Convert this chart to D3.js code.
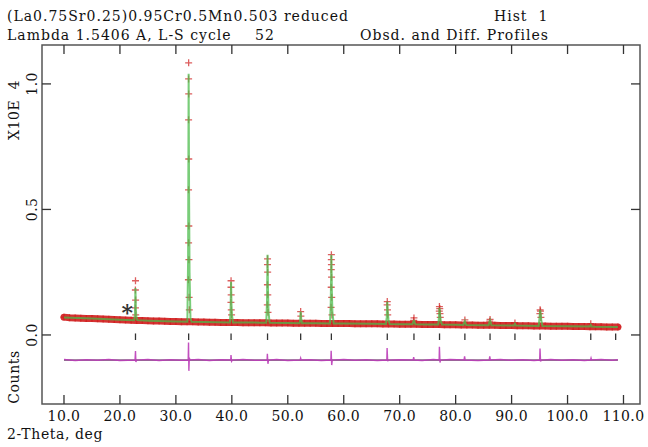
<!DOCTYPE html>
<html>
<head>
<meta charset="utf-8">
<script src="https://cdn.jsdelivr.net/npm/d3@7"></script>
<style>
  body { margin: 0; background: #fff; }
  svg text { font-family: "DejaVu Serif", serif; fill: #111; font-size: 14px; }
</style>
</head>
<body>
<svg id="chart"></svg>
<script>
// ---- data (counts in units of 1e4) ----
const titleLeft = ["(La0.75Sr0.25)0.95Cr0.5Mn0.503 reduced", "Lambda 1.5406 A, L-S cycle"];
const cycleNumber = "52";
const titleRight = ["Hist  1", "Obsd. and Diff. Profiles"];

const xTicks = [10, 20, 30, 40, 50, 60, 70, 80, 90, 100, 110];
const yTicks = [0.0, 0.5, 1.0];

// observed background band, 1 deg steps from 10 to 109
const bandStart = 10;
const bandCounts = [
  0.071, 0.069, 0.068, 0.067, 0.066, 0.066, 0.065, 0.064, 0.063, 0.062,
  0.061, 0.060, 0.059, 0.058, 0.058, 0.057, 0.056, 0.056, 0.055, 0.054,
  0.054, 0.053, 0.053, 0.053, 0.052, 0.052, 0.051, 0.051, 0.050, 0.050,
  0.050, 0.050, 0.049, 0.049, 0.049, 0.049, 0.049, 0.048, 0.048, 0.048,
  0.048, 0.047, 0.047, 0.047, 0.047, 0.047, 0.046, 0.046, 0.046, 0.046,
  0.046, 0.046, 0.045, 0.045, 0.045, 0.045, 0.045, 0.044, 0.044, 0.044,
  0.043, 0.043, 0.043, 0.043, 0.042, 0.042, 0.042, 0.042, 0.041, 0.041,
  0.041, 0.040, 0.040, 0.040, 0.039, 0.039, 0.039, 0.039, 0.038, 0.038,
  0.038, 0.037, 0.037, 0.037, 0.036, 0.036, 0.036, 0.035, 0.035, 0.035,
  0.035, 0.034, 0.034, 0.034, 0.033, 0.033, 0.033, 0.032, 0.032, 0.032
];

// observed points on the peaks [2theta, counts]
const obsPeaks = [
  [22.78, 0.216], [22.76, 0.179], [22.80, 0.139], [22.77, 0.108], [22.82, 0.080],
  [32.28, 1.084], [32.27, 1.020], [32.29, 0.960], [32.27, 0.857], [32.30, 0.701],
  [32.26, 0.578], [32.31, 0.434], [32.27, 0.367], [32.33, 0.300], [32.24, 0.220],
  [32.36, 0.150], [32.40, 0.100],
  [39.86, 0.216], [39.85, 0.190], [39.88, 0.160], [39.84, 0.130], [39.90, 0.100], [39.95, 0.080],
  [46.38, 0.303], [46.37, 0.280], [46.40, 0.250], [46.36, 0.200], [46.42, 0.160],
  [46.34, 0.120], [46.46, 0.090],
  [52.30, 0.093], [52.34, 0.075],
  [57.79, 0.320], [57.78, 0.300], [57.80, 0.280], [57.77, 0.260], [57.82, 0.230],
  [57.76, 0.190], [57.85, 0.150], [57.74, 0.110], [57.90, 0.080],
  [67.78, 0.133], [67.76, 0.120], [67.82, 0.100], [67.86, 0.080],
  [72.55, 0.068], [72.50, 0.058],
  [77.10, 0.113], [77.16, 0.105], [77.08, 0.095], [77.20, 0.085], [77.25, 0.070],
  [81.65, 0.060],
  [86.15, 0.062], [86.10, 0.055],
  [90.60, 0.048],
  [95.10, 0.100], [95.16, 0.095], [95.06, 0.085], [95.24, 0.070],
  [104.15, 0.045]
];

// calculated profile [2theta, counts]
const calcProfile = [
  [10, 0.070], [15, 0.066], [20, 0.061], [22.55, 0.059], [22.68, 0.080], [22.77, 0.187],
  [22.85, 0.100], [22.93, 0.075], [23.1, 0.059], [25, 0.057], [30, 0.054],
  [32.05, 0.053], [32.18, 0.300], [32.28, 1.040], [32.36, 0.550], [32.44, 0.250],
  [32.6, 0.070], [32.8, 0.053], [35, 0.052],
  [39.65, 0.050], [39.77, 0.090], [39.86, 0.212], [39.94, 0.120], [40.02, 0.080], [40.2, 0.050],
  [45, 0.049], [46.15, 0.049], [46.28, 0.130], [46.38, 0.319], [46.47, 0.170],
  [46.56, 0.090], [46.75, 0.049], [50, 0.048],
  [52.1, 0.047], [52.2, 0.060], [52.3, 0.093], [52.4, 0.065], [52.55, 0.047], [55, 0.047],
  [57.55, 0.046], [57.68, 0.130], [57.79, 0.319], [57.88, 0.170], [57.98, 0.090],
  [58.2, 0.046], [60, 0.046], [65, 0.045],
  [67.55, 0.044], [67.68, 0.070], [67.78, 0.133], [67.88, 0.090], [68.0, 0.060], [68.2, 0.044],
  [70, 0.043], [72.3, 0.043], [72.45, 0.052], [72.55, 0.060], [72.65, 0.050], [72.8, 0.043],
  [75, 0.042], [76.9, 0.042], [77.02, 0.070], [77.12, 0.108], [77.22, 0.080],
  [77.35, 0.055], [77.55, 0.042], [80, 0.041],
  [81.4, 0.040], [81.55, 0.050], [81.65, 0.055], [81.75, 0.047], [81.9, 0.040], [85, 0.039],
  [85.9, 0.039], [86.05, 0.052], [86.15, 0.058], [86.25, 0.050], [86.4, 0.039], [90, 0.038],
  [90.45, 0.038], [90.6, 0.044], [90.75, 0.038],
  [94.85, 0.036], [95.0, 0.070], [95.1, 0.100], [95.2, 0.085], [95.3, 0.060], [95.5, 0.036],
  [100, 0.035], [104.0, 0.034], [104.15, 0.040], [104.3, 0.034], [105, 0.033], [109, 0.032]
];

// reflection positions (2theta)
const reflections = [22.78, 32.28, 39.86, 46.38, 52.3, 57.79, 67.78, 72.55, 77.12,
  81.65, 86.15, 90.6, 95.1, 104.15, 108.6];

// difference curve (obs - calc), drawn about diffOffset
const diffOffset = -0.1;
const diffCurve = [
  [10, 0.002], [12, -0.002], [14, 0.001], [16, -0.001], [18, 0.002], [20, -0.002],
  [22.7, 0.000], [22.78, 0.036], [22.85, -0.008], [22.95, 0.000], [25, 0.002], [27, -0.002],
  [29, 0.001], [31, -0.001], [32.2, 0.000], [32.26, 0.070], [32.32, -0.043], [32.4, 0.010],
  [32.5, 0.000], [34, 0.002], [36, -0.002], [38, 0.001], [39.8, 0.000], [39.85, 0.020],
  [39.95, -0.005], [40.1, 0.000], [42, 0.002], [44, -0.001], [46.3, 0.000], [46.35, 0.025],
  [46.45, -0.015], [46.55, 0.000], [48, 0.002], [50, -0.002], [52.2, 0.000], [52.3, 0.008],
  [52.4, 0.000], [54, 0.001], [56, -0.002], [57.7, 0.000], [57.75, 0.037], [57.85, -0.020],
  [57.95, 0.000], [60, 0.002], [62, -0.001], [64, 0.001], [66, -0.002], [67.7, 0.000],
  [67.75, 0.048], [67.85, -0.005], [67.95, 0.000], [70, 0.001], [72.4, 0.000], [72.5, 0.012],
  [72.6, 0.000], [74, -0.002], [76, 0.002], [77.05, 0.000], [77.1, 0.053], [77.2, -0.010],
  [77.3, 0.000], [79, 0.002], [81.5, 0.000], [81.6, 0.015], [81.7, 0.000], [84, -0.002],
  [86.0, 0.000], [86.1, 0.015], [86.2, 0.000], [88, 0.002], [90, -0.001], [92, 0.001],
  [94, -0.002], [95.02, 0.000], [95.08, 0.046], [95.18, -0.006], [95.3, 0.000], [97, 0.002],
  [99, -0.001], [101, 0.001], [103, -0.002], [104.1, 0.000], [104.2, 0.008], [104.3, 0.000],
  [106, 0.002], [108, -0.001], [109, 0.001]
];

const star = { theta: 21.3, counts: 0.10 };

// ---- layout ----
const width = 648;
const height = 447;
const box = { left: 42, right: 640, top: 45, bottom: 404 };

const svg = d3.select("#chart")
  .attr("width", width)
  .attr("height", height);

const x = d3.scaleLinear().domain([6.07, 112.95]).range([box.left, box.right]);
const y = d3.scaleLinear().domain([-0.275, 1.155]).range([box.bottom, box.top]);

const red = "#d01c1c";
const green = "#4cbc4c";
const magenta = "#bb3cb8";

const plot = svg.append("g");

// observed band
const bandPoints = bandCounts.map((c, i) => [bandStart + i, c]);
const line = d3.line().x(d => x(d[0])).y(d => y(d[1]));

plot.append("path")
  .datum(bandPoints)
  .attr("d", line)
  .attr("fill", "none")
  .attr("stroke", red)
  .attr("stroke-width", 7)
  .attr("opacity", 0.9)
  .attr("stroke-linejoin", "round")
  .attr("stroke-linecap", "round");

// observed crosses
plot.selectAll(".obs")
  .data(bandPoints.concat(obsPeaks))
  .enter()
  .append("path")
  .attr("class", "obs")
  .attr("d", d => {
    const cx = x(d[0]), cy = y(d[1]);
    return `M${cx - 3.5},${cy}H${cx + 3.5}M${cx},${cy - 3.5}V${cy + 3.5}`;
  })
  .attr("stroke", red)
  .attr("stroke-width", 1.3)
  .attr("opacity", 0.7);

// calculated profile
plot.append("path")
  .datum(calcProfile)
  .attr("d", line)
  .attr("fill", "none")
  .attr("stroke", green)
  .attr("stroke-width", 2)
  .attr("opacity", 0.75);

// reflection markers
plot.selectAll(".refl")
  .data(reflections)
  .enter()
  .append("line")
  .attr("x1", d => x(d))
  .attr("x2", d => x(d))
  .attr("y1", y(0.006))
  .attr("y2", y(-0.02))
  .attr("stroke", "#333")
  .attr("stroke-width", 1.3);

// difference curve
plot.append("line")
  .attr("x1", x(10)).attr("x2", x(109))
  .attr("y1", y(diffOffset)).attr("y2", y(diffOffset))
  .attr("stroke", "#222")
  .attr("stroke-width", 1);

plot.append("path")
  .datum(diffCurve)
  .attr("d", d3.line().x(d => x(d[0])).y(d => y(d[1] + diffOffset)))
  .attr("fill", "none")
  .attr("stroke", magenta)
  .attr("stroke-width", 1.4)
  .attr("opacity", 0.9);

// asterisk
svg.append("text")
  .attr("x", x(star.theta))
  .attr("y", y(star.counts) + 10)
  .attr("text-anchor", "middle")
  .style("font-size", "22px")
  .style("font-weight", "bold")
  .style("fill", "#333")
  .text("*");

// frame
svg.append("rect")
  .attr("x", box.left)
  .attr("y", box.top)
  .attr("width", box.right - box.left)
  .attr("height", box.bottom - box.top)
  .attr("fill", "none")
  .attr("stroke", "#555")
  .attr("stroke-width", 1.5);

const tickLen = 9;
const axisG = svg.append("g").attr("stroke", "#333").attr("stroke-width", 1.3);

xTicks.forEach(t => {
  axisG.append("line")
    .attr("x1", x(t)).attr("x2", x(t))
    .attr("y1", box.bottom).attr("y2", box.bottom - tickLen);
  axisG.append("line")
    .attr("x1", x(t)).attr("x2", x(t))
    .attr("y1", box.top).attr("y2", box.top + tickLen);
});

yTicks.forEach(t => {
  axisG.append("line")
    .attr("x1", box.left).attr("x2", box.left + tickLen)
    .attr("y1", y(t)).attr("y2", y(t));
  axisG.append("line")
    .attr("x1", box.right).attr("x2", box.right - tickLen)
    .attr("y1", y(t)).attr("y2", y(t));
});

// tick labels
svg.selectAll(".xlab")
  .data(xTicks)
  .enter()
  .append("text")
  .attr("x", d => x(d))
  .attr("y", 421)
  .attr("text-anchor", "middle")
  .style("letter-spacing", "0.4px")
  .text(d => d.toFixed(1));

svg.selectAll(".ylab")
  .data(yTicks)
  .enter()
  .append("text")
  .attr("transform", d => `translate(37, ${y(d)}) rotate(-90)`)
  .attr("text-anchor", "middle")
  .style("letter-spacing", "0.4px")
  .text(d => d.toFixed(1));

// axis titles
svg.append("text")
  .attr("x", 7).attr("y", 439)
  .style("letter-spacing", "0.6px")
  .text("2-Theta, deg");

svg.append("text")
  .attr("transform", "translate(19, 110) rotate(-90)")
  .attr("text-anchor", "middle")
  .style("white-space", "pre")
  .style("letter-spacing", "0.6px")
  .text("X10E  4");

svg.append("text")
  .attr("transform", "translate(19, 377) rotate(-90)")
  .attr("text-anchor", "middle")
  .style("letter-spacing", "0.6px")
  .text("Counts");

// titles
const titleG = svg.append("g").style("letter-spacing", "1px");
titleG.selectAll(".title")
  .data(titleLeft)
  .enter()
  .append("text")
  .attr("x", 7)
  .attr("y", (d, i) => 21 + i * 19)
  .text(d => d);

titleG.append("text").attr("x", 255).attr("y", 40).text(cycleNumber);
titleG.append("text").attr("x", 494).attr("y", 21)
  .style("white-space", "pre").text(titleRight[0]);
titleG.append("text").attr("x", 360).attr("y", 40).text(titleRight[1]);
</script>
</body>
</html>
